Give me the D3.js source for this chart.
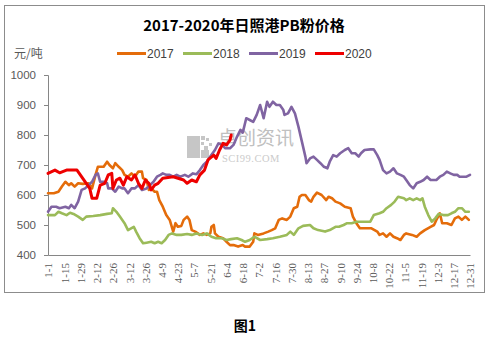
<!DOCTYPE html>
<html>
<head>
<meta charset="utf-8">
<script src="https://cdn.jsdelivr.net/npm/d3@7"></script>
<style>
  html, body { margin: 0; padding: 0; background: #fff; }
  svg { display: block; }
</style>
</head>
<body>
<svg id="chart" width="490" height="338"></svg>
<script>
// 日照港PB粉价格（元/吨），[年内天数, 价格]
const price2017 = [[0,606],[5,606],[9,611],[12,628],[15,644],[18,633],[20,639],[23,628],[26,639],[30,637],[35,639],[38,622],[41,667],[43,694],[48,694],[51,711],[53,700],[56,689],[58,706],[61,694],[64,683],[66,667],[69,661],[72,672],[75,661],[78,678],[81,678],[82,656],[85,650],[87,617],[89,622],[92,611],[94,611],[96,583],[99,561],[102,533],[105,517],[108,478],[110,506],[112,494],[115,497],[117,517],[120,528],[122,517],[124,483],[127,478],[131,467],[134,472],[137,467],[140,472],[141,494],[143,500],[144,472],[147,461],[151,456],[154,444],[157,433],[160,433],[164,428],[168,433],[170,428],[174,428],[177,444],[178,472],[181,467],[186,472],[190,478],[193,483],[196,489],[199,517],[202,522],[206,517],[209,528],[212,556],[215,561],[217,594],[219,600],[222,600],[225,583],[227,578],[229,594],[232,608],[236,600],[240,583],[242,594],[245,589],[248,578],[252,572],[256,561],[261,556],[263,528],[266,506],[269,489],[273,489],[279,489],[284,478],[286,467],[289,472],[292,461],[295,472],[298,461],[301,456],[304,450],[307,467],[309,472],[314,467],[318,461],[321,472],[325,483],[330,494],[333,500],[335,517],[338,539],[340,506],[344,506],[348,500],[351,522],[354,528],[357,517],[360,528],[363,517]];

const price2018 = [[0,533],[6,533],[9,544],[12,539],[16,533],[19,541],[22,537],[26,528],[30,517],[33,528],[39,530],[45,533],[51,537],[55,539],[56,556],[59,544],[62,528],[66,506],[69,483],[74,494],[76,478],[79,456],[82,439],[85,441],[89,444],[92,439],[95,444],[98,439],[101,450],[104,467],[107,472],[111,467],[115,467],[120,470],[124,467],[128,472],[133,467],[137,472],[141,461],[145,456],[150,456],[154,450],[158,453],[163,456],[167,450],[170,444],[174,450],[178,461],[183,450],[189,453],[194,456],[200,461],[206,467],[209,478],[212,467],[216,489],[220,497],[226,500],[229,489],[233,483],[239,478],[243,483],[248,494],[251,494],[255,500],[258,506],[262,506],[266,511],[272,511],[278,511],[281,533],[286,539],[289,544],[292,556],[296,567],[299,578],[302,594],[307,589],[309,583],[312,589],[315,583],[318,589],[321,583],[323,589],[325,561],[328,533],[331,511],[334,522],[337,537],[341,533],[345,533],[348,539],[351,544],[354,556],[357,556],[360,544],[363,544]];

const price2019 = [[0,544],[3,561],[7,561],[10,556],[15,561],[18,556],[20,567],[23,556],[26,578],[29,617],[32,622],[35,633],[38,644],[41,667],[43,672],[45,644],[48,644],[51,639],[52,622],[55,622],[58,611],[61,628],[64,622],[66,622],[69,606],[72,622],[75,622],[78,633],[81,617],[85,622],[88,633],[91,644],[94,661],[97,667],[99,672],[102,667],[105,667],[108,661],[111,667],[114,661],[118,667],[121,661],[125,672],[128,669],[131,683],[134,700],[137,711],[140,728],[144,750],[147,772],[150,767],[153,756],[157,756],[160,767],[163,794],[166,817],[168,808],[171,856],[174,850],[177,844],[180,867],[183,900],[186,856],[189,911],[191,894],[194,911],[197,900],[200,900],[203,883],[204,867],[207,872],[210,894],[213,872],[216,828],[219,778],[222,728],[223,706],[226,722],[229,728],[232,717],[235,706],[238,694],[241,689],[243,711],[246,733],[249,728],[252,739],[256,750],[259,756],[262,739],[265,739],[268,728],[270,739],[273,750],[278,752],[281,752],[284,733],[286,717],[289,683],[292,672],[295,678],[298,689],[301,672],[304,667],[307,661],[309,650],[312,633],[315,622],[318,639],[321,644],[324,650],[327,661],[330,650],[333,650],[335,650],[338,661],[341,667],[344,678],[347,672],[350,667],[353,667],[355,661],[358,661],[361,661],[364,667]];

const price2020 = [[0,672],[6,683],[10,674],[16,683],[25,683],[36,622],[38,589],[42,589],[45,633],[49,639],[52,667],[55,672],[56,622],[59,650],[62,656],[65,633],[68,661],[72,650],[75,667],[78,639],[81,622],[84,650],[87,639],[89,617],[92,633],[95,639],[99,656],[108,661],[117,650],[120,639],[124,650],[128,644],[131,667],[135,683],[138,717],[143,733],[145,722],[148,750],[151,772],[154,767],[157,783],[158,800]];

const seriesNames = ["2017", "2018", "2019", "2020"];
const seriesColors = ["#E46C0A", "#9BBB59", "#8064A2", "#EE0000"];
const yTicks = [400, 500, 600, 700, 800, 900, 1000];
const xTickLabels = ["1-1","1-15","1-29","2-12","2-26","3-12","3-26","4-9","4-23","5-7","5-21","6-4","6-18","7-2","7-16","7-30","8-13","8-27","9-10","9-24","10-8","10-22","11-5","11-19","12-3","12-17","12-31"];

const seriesData = [price2017, price2018, price2019, price2020];

const svg = d3.select("#chart");

// 外框
svg.append("rect")
  .attr("x", 4.5).attr("y", 5.5)
  .attr("width", 480).attr("height", 287)
  .attr("fill", "#fff").attr("stroke", "#8c8c8c").attr("stroke-width", 1);

// 标题
svg.append("text")
  .attr("x", 244).attr("y", 31)
  .attr("text-anchor", "middle")
  .attr("font-family", "'Noto Sans CJK SC', 'Noto Sans', sans-serif")
  .attr("font-weight", "bold").attr("font-size", 15)
  .attr("fill", "#000")
  .text("2017-2020年日照港PB粉价格");

// 单位
svg.append("text")
  .attr("x", 14).attr("y", 58)
  .attr("font-family", "'Noto Sans CJK SC', sans-serif")
  .attr("font-size", 12).attr("fill", "#595959")
  .text("元/吨");

// 图例
const legend = svg.append("g");
const legendX = [117, 183, 249, 315];
seriesNames.forEach((name, i) => {
  legend.append("line")
    .attr("x1", legendX[i]).attr("x2", legendX[i] + 29)
    .attr("y1", 53.5).attr("y2", 53.5)
    .attr("stroke", seriesColors[i]).attr("stroke-width", 3);
  legend.append("text")
    .attr("x", legendX[i] + 30).attr("y", 58)
    .attr("font-family", "'Liberation Sans', Arial, sans-serif")
    .attr("font-size", 12).attr("fill", "#404040")
    .text(name);
});

// 比例尺
const x = d3.scaleLinear().domain([0, 364]).range([48, 470]);
const y = d3.scaleLinear().domain([400, 1000]).range([255, 75]);

// 水印
const wm = svg.append("g").attr("fill", "#c6c6c6");
[[187,136,13,22],[201,136,4,4],[206,138,3,3],[201,142,3,3],[204,146,4,4],[209,143,3,3],[201,150,8,8]]
  .forEach(r => wm.append("rect").attr("x", r[0]).attr("y", r[1]).attr("width", r[2]).attr("height", r[3]));
wm.append("text")
  .attr("x", 218).attr("y", 145)
  .attr("font-family", "'Noto Sans CJK SC', sans-serif")
  .attr("font-size", 19).attr("fill", "#c0c0c0")
  .text("卓创资讯");
wm.append("text")
  .attr("x", 222).attr("y", 162)
  .attr("font-family", "'Liberation Serif', serif")
  .attr("font-size", 10.5).attr("fill", "#cbcbcb")
  .attr("letter-spacing", 0.5)
  .text("SCI99.COM");

// Y 轴
const yAxis = d3.axisLeft(y).tickValues(yTicks).tickFormat(d3.format("d")).tickSize(4).tickPadding(8);
const gy = svg.append("g").attr("transform", "translate(48,0)").call(yAxis);
gy.select(".domain").attr("stroke", "#868686");
gy.selectAll(".tick line").attr("stroke", "#868686");
gy.selectAll(".tick text")
  .attr("font-family", "'Liberation Sans', Arial, sans-serif")
  .attr("font-size", 11.5).attr("fill", "#595959");

// X 轴（日期标签竖排）
const base = new Date(2017, 0, 1);
const parseMD = d3.timeParse("%Y-%m-%d");
const xTickDays = xTickLabels.map(s => d3.timeDay.count(base, parseMD("2017-" + s)));
const xAxis = d3.axisBottom(x)
  .tickValues(xTickDays)
  .tickFormat((d, i) => xTickLabels[i])
  .tickSize(0).tickPadding(0)
  .tickSizeOuter(0);
const gx = svg.append("g").attr("transform", "translate(0,255)").call(xAxis);
gx.select(".domain").attr("stroke", "#868686");
gx.selectAll(".tick text")
  .attr("font-family", "'Liberation Serif', 'DejaVu Serif', serif")
  .attr("font-size", 11).attr("fill", "#595959")
  .attr("text-anchor", "end")
  .attr("dy", "0.35em")
  .attr("transform", "translate(0,8) rotate(-90)")
  .attr("y", 0).attr("x", 0);

// 折线
const line = d3.line().x(d => x(d[0])).y(d => y(d[1]));
seriesData.forEach((data, i) => {
  svg.append("path")
    .datum(data)
    .attr("fill", "none")
    .attr("stroke", seriesColors[i])
    .attr("stroke-width", i === 3 ? 3 : 2.6)
    .attr("stroke-linejoin", "round")
    .attr("stroke-linecap", "round")
    .attr("d", line);
});

// 图号
svg.append("text")
  .attr("x", 245).attr("y", 331)
  .attr("text-anchor", "middle")
  .attr("font-family", "'Noto Sans CJK SC', sans-serif")
  .attr("font-weight", "bold").attr("font-size", 14)
  .attr("fill", "#000")
  .text("图1");
</script>
</body>
</html>
